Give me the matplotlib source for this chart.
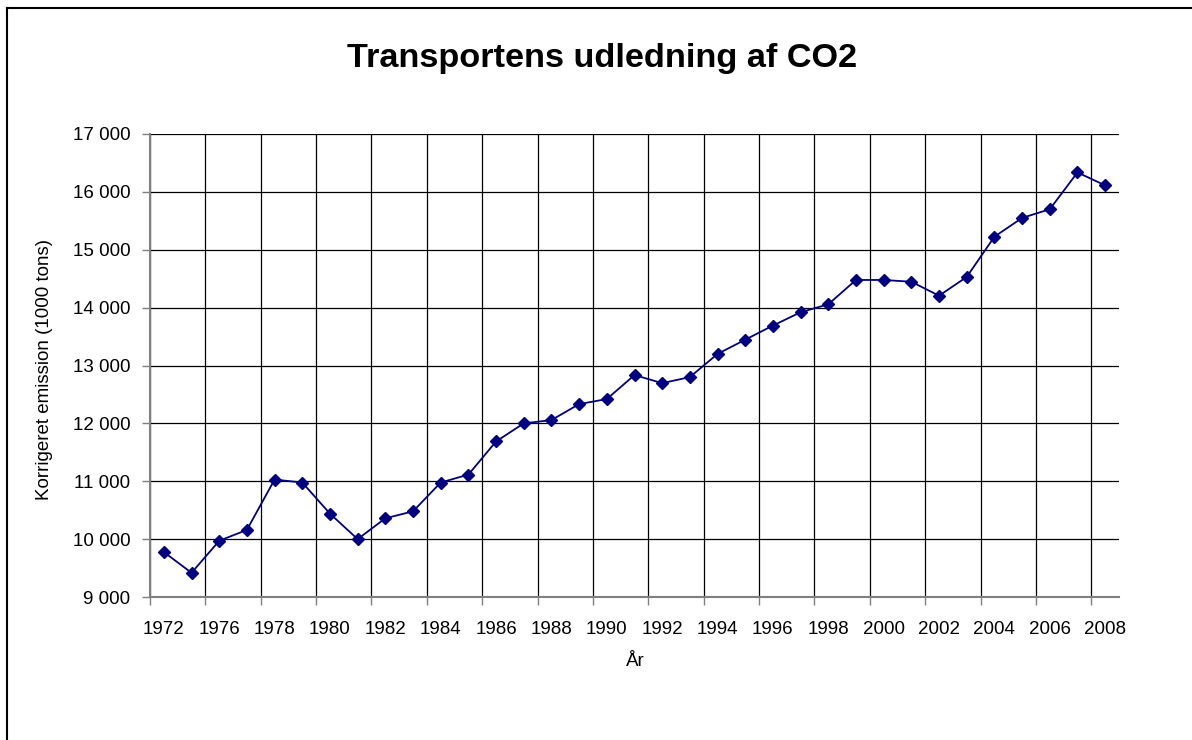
import matplotlib
matplotlib.use("Agg")
import matplotlib.pyplot as plt
import numpy as np
from matplotlib.lines import Line2D

plt.rcParams['font.family'] = ['Liberation Sans', 'DejaVu Sans']

years = ['1972', '1975', '1976', '1977', '1978', '1979', '1980', '1981', '1982',
         '1983', '1984', '1985', '1986', '1987', '1988', '1989', '1990', '1991',
         '1992', '1993', '1994', '1995', '1996', '1997', '1998', '1999', '2000',
         '2001', '2002', '2003', '2004', '2005', '2006', '2007', '2008']
emission = [9777, 9418, 9971, 10160, 11029, 10978, 10440, 10000, 10360,
            10480, 10978, 11115, 11688, 12000, 12057, 12333, 12420, 12835,
            12695, 12800, 13200, 13446, 13690, 13920, 14058, 14478, 14478,
            14447, 14206, 14530, 15225, 15550, 15700, 16336, 16112]
y_ticks = [9000, 10000, 11000, 12000, 13000, 14000, 15000, 16000, 17000]

title = 'Transportens udledning af CO2'
ylabel = 'Korrigeret emission (1000 tons)'
xlabel = 'År'

fig = plt.figure(figsize=(11.92, 7.40), dpi=100)
ax = fig.add_axes([150/1192, 1-597/740, 969/1192, 463/740])

x = np.arange(len(years))
ax.plot(x, emission, color='#000080', lw=1.3, marker='D', ms=6.5,
        markeredgecolor='#000080', markerfacecolor='#000080', zorder=3)

ax.set_xlim(-0.5, len(years) - 0.5)
ax.set_ylim(y_ticks[0], y_ticks[-1])

# major ticks at category boundaries (gridlines), minor ticks carry labels
ax.set_xticks(np.arange(-0.5, len(years) - 1, 2))
ax.set_xticklabels([])
ax.set_xticks(x[::2], minor=True)
ax.set_xticklabels(years[::2], minor=True)
ax.tick_params(axis='x', which='major', direction='out', length=6, width=1, color='#808080')
ax.tick_params(axis='x', which='minor', length=0, pad=17, labelsize=13.5)

ax.set_yticks(y_ticks)
ax.set_yticklabels([f"{v:,}".replace(',', ' ') for v in y_ticks])
ax.tick_params(axis='y', direction='out', length=6, width=1, color='#808080',
               pad=8, labelsize=13.5)

ax.grid(True, which='major', color='black', lw=0.9)
ax.set_axisbelow(True)

for s in ['top', 'right']:
    ax.spines[s].set_visible(False)
for s in ['left', 'bottom']:
    ax.spines[s].set_color('#808080')
    ax.spines[s].set_linewidth(1.5)
    ax.spines[s].set_zorder(2.5)

fig.text(602/1192, 1-58/740, title, ha='center', va='center',
         fontsize=24.7, fontweight='bold')
fig.text(45/1192, 1-369/740, ylabel, ha='center', va='center',
         rotation=90, fontsize=13.5)
fig.text(635/1192, 1-662/740, xlabel, ha='center', va='center', fontsize=13.5)

# outer chart border (left and top visible)
fig.add_artist(Line2D([7.5/1192, 7.5/1192], [0, 1-7.5/740], color='black', lw=1.5,
                      transform=fig.transFigure))
fig.add_artist(Line2D([7.5/1192, 1], [1-7.5/740, 1-7.5/740], color='black', lw=1.5,
                      transform=fig.transFigure))

fig.savefig('out.png', dpi=100)
